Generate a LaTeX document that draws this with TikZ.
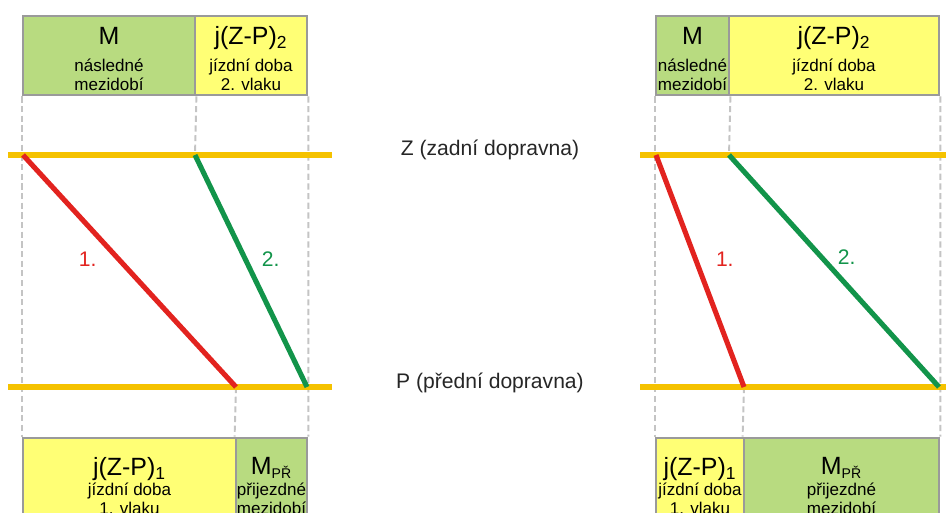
\documentclass[tikz,border=0pt]{standalone}
\usepackage{fontspec}
\setmainfont{Liberation Sans}
\usetikzlibrary{positioning}
\definecolor{mzgreen}{HTML}{B8DB80}
\definecolor{jzyellow}{HTML}{FFFF75}
\definecolor{boxgray}{HTML}{9A9A9A}
\definecolor{guidegray}{HTML}{C4C4C4}
\definecolor{stgold}{HTML}{F5C200}
\definecolor{trred}{HTML}{E2231F}
\definecolor{trgreen}{HTML}{12944A}
\newdimen\px \px=0.02cm
\newcommand\bigtxt[1]{{\fontsize{14.2}{16}\selectfont #1}}
\newcommand\topstrut{\rule{0pt}{13.6pt}}

\begin{document}
\begin{tikzpicture}[
      x=0.02cm, y=-0.02cm,
      font=\fontsize{9.7}{10.7}\selectfont,
      tbox/.style={draw=boxgray, line width=1.6pt, align=center, inner sep=0pt,
                   minimum height=79\px},
      bbox/.style={tbox, minimum height=96\px},
      mz/.style={fill=mzgreen},
      jz/.style={fill=jzyellow},
      station/.style={draw=stgold, line width=2.9pt},
      guide/.style={draw=guidegray, line width=1.1pt, dash pattern=on 3.5pt off 2pt},
      train/.style={line width=2.9pt},
      stlbl/.style={font=\fontsize{12}{14}\selectfont, text=black!85},
      nlbl/.style={font=\fontsize{12}{14}\selectfont}
    ]
    \useasboundingbox (0,0) rectangle (949,513);
    \clip (0,0) rectangle (949,513);
    % ------------- left diagram -------------
    \coordinate (zL1) at (23,155);
    \coordinate (zL2) at (195,155);
    \coordinate (pL1) at (236,387);
    \coordinate (pL2) at (307,387);
    \coordinate (zLa) at (8,155);
    \coordinate (zLb) at (332,155);
    \coordinate (pLa) at (8,387);
    \coordinate (pLb) at (332,387);
    \node[tbox, mz, minimum width=172\px] (mL) at (109,55.5)
      {\topstrut\bigtxt{M}\\[4.8pt]následné\\mezidobí};
    \node[tbox, jz, minimum width=112\px] (jL) at (251,55.5)
      {\topstrut\bigtxt{j(Z-P)$_{\mathrm{2}}$}\\[4.8pt]jízdní doba\\2. vlaku};
    \node[bbox, jz, minimum width=213\px] (j1L) at (129.5,486)
      {\bigtxt{j(Z-P)$_{\mathrm{1}}$}\\[1pt]jízdní doba\\1. vlaku};
    \node[bbox, mz, minimum width=71\px] (mpL) at (271.5,486)
      {\bigtxt{M\textsubscript{\fontsize{8}{9}\selectfont PŘ}}\\[1pt]přijezdné\\mezidobí};
    \draw[guide] (mL.south west) -- (j1L.north west);
    \draw[guide] (mL.south east) -- (zL2);
    \draw[guide] (pL1) -- (mpL.north west);
    \draw[guide] (jL.south east) -- (mpL.north east);
    \draw[station] (zLa) -- (zLb);
    \draw[station] (pLa) -- (pLb);
    \draw[train, draw=trred] (zL1) -- (pL1) node[pos=0.45, left=14\px, nlbl, text=trred] (n1L) {1.};
    \draw[train, draw=trgreen] (zL2) -- (pL2) node[pos=0.45, right=8\px, nlbl, text=trgreen] (n2L) {2.};
    % ------------- right diagram -------------
    \coordinate (zR1) at (656,155);
    \coordinate (zR2) at (729,155);
    \coordinate (pR1) at (744,387);
    \coordinate (pR2) at (939,387);
    \coordinate (zRa) at (640,155);
    \coordinate (zRb) at (946,155);
    \coordinate (pRa) at (640,387);
    \coordinate (pRb) at (946,387);
    \node[tbox, mz, minimum width=73\px] (mR) at (692.5,55.5)
      {\topstrut\bigtxt{M}\\[4.8pt]následné\\mezidobí};
    \node[tbox, jz, minimum width=210\px] (jR) at (834,55.5)
      {\topstrut\bigtxt{j(Z-P)$_{\mathrm{2}}$}\\[4.8pt]jízdní doba\\2. vlaku};
    \node[bbox, jz, minimum width=88\px] (j1R) at (700,486)
      {\bigtxt{j(Z-P)$_{\mathrm{1}}$}\\[1pt]jízdní doba\\1. vlaku};
    \node[bbox, mz, minimum width=195\px] (mpR) at (841.5,486)
      {\bigtxt{M\textsubscript{\fontsize{8}{9}\selectfont PŘ}}\\[1pt]přijezdné\\mezidobí};
    \draw[guide] (mR.south west) -- (j1R.north west);
    \draw[guide] (mR.south east) -- (zR2);
    \draw[guide] (pR1) -- (mpR.north west);
    \draw[guide] (jR.south east) -- (mpR.north east);
    \draw[station] (zRa) -- (zRb);
    \draw[station] (pRa) -- (pRb);
    \draw[train, draw=trred] (zR1) -- (pR1) node[pos=0.45, right=12\px, nlbl, text=trred] (n1R) {1.};
    \draw[train, draw=trgreen] (zR2) -- (pR2) node[pos=0.44, right=8\px, nlbl, text=trgreen] (n2R) {2.};
    % ------------- station labels -------------
    \node[stlbl] (zlbl) at (490,150) {Z (zadní dopravna)};
    \node[stlbl] (plbl) at (490,383) {P (přední dopravna)};
  \end{tikzpicture}
\end{document}
